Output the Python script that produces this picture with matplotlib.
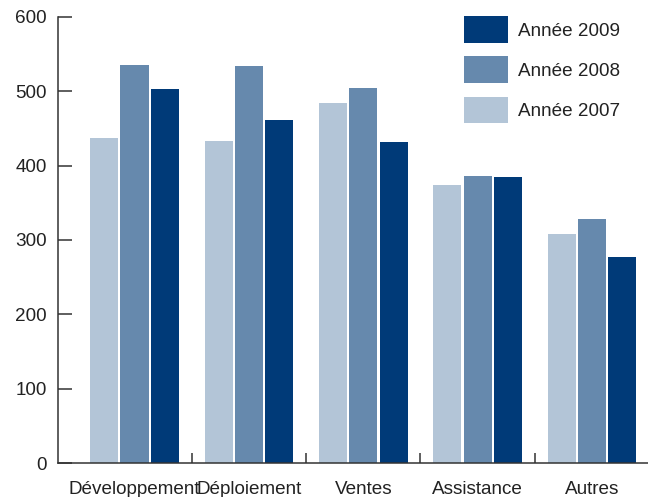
import matplotlib
matplotlib.use("Agg")
import matplotlib.pyplot as plt
import numpy as np

categories = ["Développement", "Déploiement", "Ventes", "Assistance", "Autres"]
annee_2007 = [437, 433, 484, 374, 308]
annee_2008 = [535, 534, 504, 386, 328]
annee_2009 = [503, 461, 432, 385, 277]
series_labels = ["Année 2007", "Année 2008", "Année 2009"]
yticks = [0, 100, 200, 300, 400, 500, 600]

colors = ["#b3c5d7", "#6689ad", "#003a78"]

plt.rcParams['font.family'] = ['Liberation Sans', 'DejaVu Sans']
text_color = "#222222"
axis_color = "#333333"
fs = 13.6

fig = plt.figure(figsize=(6.48, 4.97), dpi=100)
ax = fig.add_axes([58/648, 1-463/497, 590/648, (463-17)/497])

x = np.arange(len(categories))
w = 0.245
step = 0.265
handles = []
for i, (vals, lab, c) in enumerate(zip([annee_2007, annee_2008, annee_2009], series_labels, colors)):
    b = ax.bar(x + (i-1)*step, vals, width=w, color=c, label=lab)
    handles.append(b)

ax.set_xlim(-0.669, 4.49)
ax.set_ylim(0, 600)
ax.set_yticks(yticks)
ax.set_xticks(x)
ax.set_xticklabels(categories)
ax.set_xticks(x[:-1] + 0.5, minor=True)

for s in ["top", "right"]:
    ax.spines[s].set_visible(False)
for s in ["left", "bottom"]:
    ax.spines[s].set_color(axis_color)
    ax.spines[s].set_linewidth(1.1)

ax.tick_params(axis='y', direction='in', length=10, width=1.1, color=axis_color,
               labelsize=fs, labelcolor=text_color, pad=8)
ax.tick_params(axis='x', which='major', length=0, labelsize=fs, labelcolor=text_color, pad=13)
ax.tick_params(axis='x', which='minor', direction='in', length=7, width=1.1, color=axis_color)

leg = ax.legend(handles[::-1], series_labels[::-1], loc='upper left',
                bbox_to_anchor=(449/648, 1 - 1/497), bbox_transform=fig.transFigure,
                frameon=False, fontsize=fs, handlelength=2.33, handleheight=1.8,
                labelspacing=0.72, handletextpad=0.5, borderpad=0.3)
for t in leg.get_texts():
    t.set_color(text_color)

fig.savefig("out.png", dpi=100)
